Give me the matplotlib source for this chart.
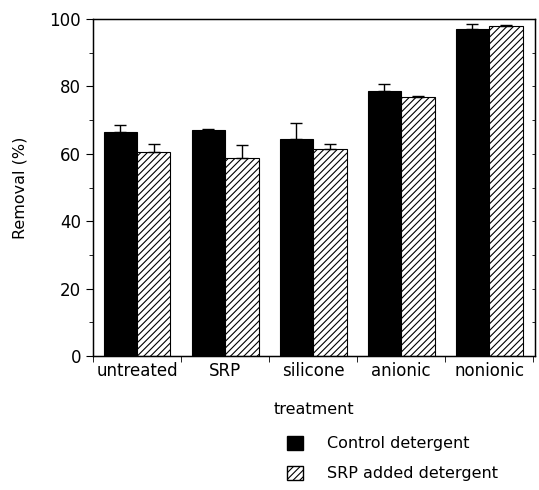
import numpy as np
import matplotlib.pyplot as plt
from matplotlib.patches import Patch

# values
treatments = ['untreated', 'SRP', 'silicone', 'anionic', 'nonionic']
control = [66.5, 67.0, 64.5, 78.8, 97.0]
control_err = [2.0, 0.5, 4.7, 1.9, 1.5]
srp_added = [60.5, 58.7, 61.3, 76.8, 98.0]
srp_added_err = [2.5, 3.8, 1.7, 0.4, 0.3]

plt.rcParams['font.family'] = 'DejaVu Sans'
plt.rcParams['hatch.linewidth'] = 0.8

fig = plt.figure(figsize=(5.39, 4.90), dpi=100)
ax = fig.add_axes([0.1725, 0.2735, 0.8201, 0.6875])

x = np.arange(len(treatments))
w = 0.38

ax.bar(x - w / 2, control, w, color='black', edgecolor='black', linewidth=0.8,
       yerr=[np.zeros(len(x)), control_err], capsize=4.5,
       error_kw=dict(ecolor='black', elinewidth=1.0, capthick=1.0))
ax.bar(x + w / 2, srp_added, w, color='white', edgecolor='black', linewidth=0.8,
       hatch='/////',
       yerr=[np.zeros(len(x)), srp_added_err], capsize=4.5,
       error_kw=dict(ecolor='black', elinewidth=1.0, capthick=1.0))

ax.set_xlim(-0.5, 4.52)
ax.set_ylim(0, 100)

ax.set_yticks(np.arange(0, 101, 20))
ax.set_yticks(np.arange(10, 100, 20), minor=True)
ax.tick_params(axis='y', which='both', direction='out', labelsize=12)
ax.tick_params(axis='y', which='major', length=5)
ax.tick_params(axis='y', which='minor', length=3)

ax.set_xticks(x)
ax.set_xticklabels(treatments, fontsize=12)
ax.set_xticks(np.arange(-0.5, 4.6, 1.0), minor=True)
ax.tick_params(axis='x', which='major', length=0, pad=4)
ax.tick_params(axis='x', which='minor', length=4, direction='out')

# faint inward ticks on the right spine
ax2 = ax.twinx()
ax2.set_ylim(0, 100)
ax2.set_yticks(np.arange(0, 101, 10))
ax2.tick_params(axis='y', direction='in', length=2.5, width=0.6, labelright=False)

for s in ax.spines.values():
    s.set_linewidth(1.0)

ax.set_ylabel('Removal (%)', fontsize=11.5, labelpad=16)
ax.set_xlabel('treatment', fontsize=11.5, labelpad=16)

handles = [Patch(facecolor='black', edgecolor='black'),
           Patch(facecolor='white', edgecolor='black', hatch='/////')]
fig.legend(handles, ['Control detergent', 'SRP added detergent'],
           loc='upper left', bbox_to_anchor=(0.505, 0.14), frameon=False,
           fontsize=11.5, handlelength=1.0, handleheight=1.0,
           handletextpad=1.5, labelspacing=0.9)

plt.savefig('out.png', dpi=100)
